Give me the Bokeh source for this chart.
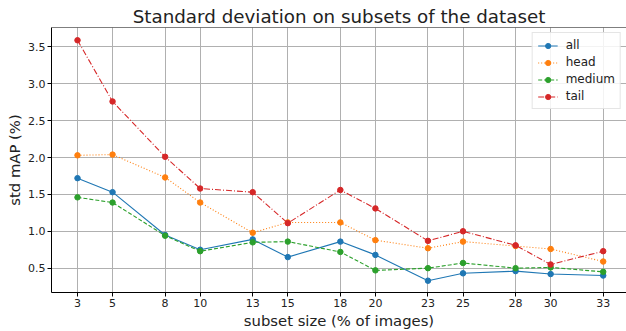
from bokeh.plotting import figure
from bokeh.models import FixedTicker, PrintfTickFormatter, Range1d, Span, Legend
from bokeh.embed import file_html
from bokeh.resources import INLINE

subset_size = [3, 5, 8, 10, 13, 15, 18, 20, 23, 25, 28, 30, 33]
std_all = [1.72, 1.53, 0.95, 0.75, 0.89, 0.65, 0.86, 0.68, 0.33, 0.43, 0.46, 0.42, 0.40]
std_head = [2.03, 2.04, 1.73, 1.39, 0.98, 1.12, 1.12, 0.88, 0.77, 0.86, 0.80, 0.76, 0.59]
std_medium = [1.46, 1.39, 0.94, 0.73, 0.85, 0.86, 0.72, 0.47, 0.50, 0.57, 0.50, 0.51, 0.45]
std_tail = [3.59, 2.76, 2.01, 1.58, 1.53, 1.11, 1.56, 1.31, 0.87, 1.00, 0.81, 0.55, 0.73]
y_ticks = [0.5, 1.0, 1.5, 2.0, 2.5, 3.0, 3.5]

FONT = "DejaVu Sans"
TEXT = "#222222"

p = figure(width=626, height=331, output_backend="svg", toolbar_location=None,
           x_range=Range1d(1.516, 34.33), y_range=Range1d(0.17, 3.763),
           min_border_left=51, min_border_right=0, min_border_top=27, min_border_bottom=35,
           title="Standard deviation on subsets of the dataset")

p.title.text_font = FONT
p.title.text_font_size = "18.3px"
p.title.text_font_style = "normal"
p.title.text_color = TEXT
p.title.align = "center"
p.title.standoff = 2
p.title.text_line_height = 1.0

p.outline_line_color = None
p.background_fill_color = "white"
p.border_fill_color = "white"

for ax in (p.xaxis[0], p.yaxis[0]):
    ax.axis_line_color = "black"
    ax.axis_line_width = 1
    ax.major_tick_line_color = "black"
    ax.major_tick_out = 4
    ax.major_tick_in = 0
    ax.minor_tick_line_color = None
    ax.major_label_text_font = FONT
    ax.major_label_text_font_size = "11px"
    ax.major_label_text_color = TEXT
    ax.major_label_text_line_height = 1.0
    ax.axis_label_text_font = FONT
    ax.axis_label_text_font_size = "14.8px"
    ax.axis_label_text_font_style = "normal"
    ax.axis_label_text_color = TEXT
    ax.axis_label_text_line_height = 1.0
    ax.major_label_standoff = 2
    ax.axis_label_standoff = 2

p.xaxis.ticker = FixedTicker(ticks=subset_size)
p.xaxis.formatter = PrintfTickFormatter(format="%d")
p.yaxis.ticker = FixedTicker(ticks=y_ticks)
p.yaxis.formatter = PrintfTickFormatter(format="%.1f")
p.xaxis.axis_label = "subset size (% of images)"
p.yaxis.axis_label = "std mAP (%)"

p.xgrid.grid_line_color = "#b0b0b0"
p.ygrid.grid_line_color = "#b0b0b0"
p.xgrid.grid_line_width = 1
p.ygrid.grid_line_width = 1

p.add_layout(Span(location=3.763, dimension="width", line_color="black", line_width=1))

series = [
    ("all", std_all, "#1f77b4", "solid"),
    ("head", std_head, "#ff7f0e", "1 2"),
    ("medium", std_medium, "#2ca02c", "4 2"),
    ("tail", std_tail, "#d62728", "6 2 1 2"),
]
items = []
for name, ys, col, dash in series:
    r1 = p.line(subset_size, ys, line_color=col, line_width=1.1, line_dash=dash)
    r2 = p.scatter(subset_size, ys, size=5.5, fill_color=col, line_color=col)
    items.append((name, [r1, r2]))

legend = Legend(items=items, location="top_right")
legend.label_text_font = FONT
legend.label_text_font_size = "12px"
legend.label_text_color = TEXT
legend.border_line_color = "#cccccc"
legend.border_line_width = 1
legend.background_fill_alpha = 0.85
legend.glyph_width = 20
legend.glyph_height = 13
legend.label_height = 13
legend.spacing = 3
legend.padding = 5
legend.margin = 5
legend.label_standoff = 8
p.add_layout(legend)

open("out.html", "w").write(file_html(p, INLINE))
